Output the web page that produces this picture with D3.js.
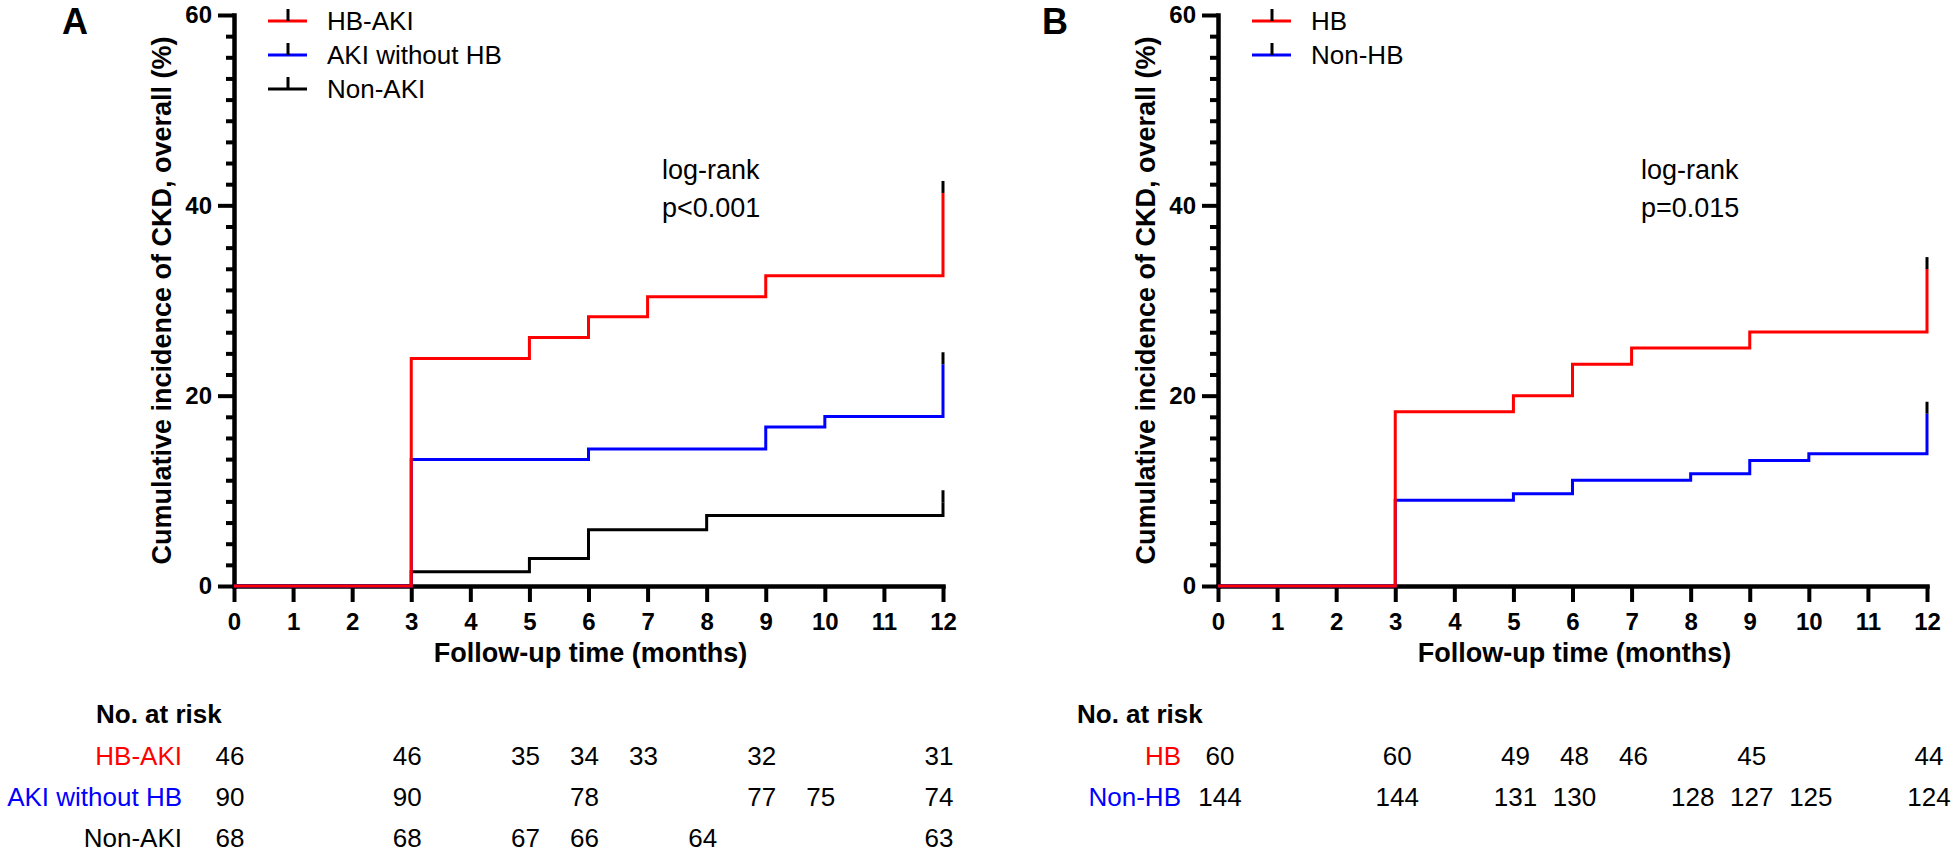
<!DOCTYPE html>
<html>
<head>
<meta charset="utf-8">
<script src="https://cdn.jsdelivr.net/npm/d3@7"></script>
<style>
  html, body { margin: 0; padding: 0; background: #fff; }
  svg { display: block; }
  text { font-family: Arial, "Liberation Sans", sans-serif; }
</style>
</head>
<body>
<svg id="chart" width="1960" height="854"></svg>
<script>
// ---------- DATA ----------
const months = [0,1,2,3,4,5,6,7,8,9,10,11,12];
const yTicks = [0, 20, 40, 60];

// Panel A
const aSeriesNames = ["HB-AKI", "AKI without HB", "Non-AKI"];
const aColors = ["#ff0000", "#0000ff", "#000000"];
const aHbAkiTimes = [0, 3, 5, 6, 7, 9, 12];
const aHbAkiValues = [0, 23.9, 26.1, 28.3, 30.4, 32.6, 41.3];
const aAkiNoHbTimes = [0, 3, 6, 9, 10, 12];
const aAkiNoHbValues = [0, 13.3, 14.4, 16.7, 17.8, 23.3];
const aNonAkiTimes = [0, 3, 5, 6, 8, 12];
const aNonAkiValues = [0, 1.5, 2.9, 5.9, 7.4, 8.8];
const aPText = ["log-rank", "p<0.001"];

const aRiskHbAkiTimes = [0, 3, 5, 6, 7, 9, 12];
const aRiskHbAki = [46, 46, 35, 34, 33, 32, 31];
const aRiskAkiNoHbTimes = [0, 3, 6, 9, 10, 12];
const aRiskAkiNoHb = [90, 90, 78, 77, 75, 74];
const aRiskNonAkiTimes = [0, 3, 5, 6, 8, 12];
const aRiskNonAki = [68, 68, 67, 66, 64, 63];

// Panel B
const bSeriesNames = ["HB", "Non-HB"];
const bColors = ["#ff0000", "#0000ff"];
const bHbTimes = [0, 3, 5, 6, 7, 9, 12];
const bHbValues = [0, 18.3, 20.0, 23.3, 25.0, 26.7, 33.3];
const bNonHbTimes = [0, 3, 5, 6, 8, 9, 10, 12];
const bNonHbValues = [0, 9.0, 9.7, 11.1, 11.8, 13.2, 13.9, 18.1];
const bPText = ["log-rank", "p=0.015"];

const bRiskHbTimes = [0, 3, 5, 6, 7, 9, 12];
const bRiskHb = [60, 60, 49, 48, 46, 45, 44];
const bRiskNonHbTimes = [0, 3, 5, 6, 8, 9, 10, 12];
const bRiskNonHb = [144, 144, 131, 130, 128, 127, 125, 124];

const yTitle = "Cumulative incidence of CKD, overall (%)";
const xTitle = "Follow-up time (months)";
const riskTitle = "No. at risk";

// ---------- DRAW ----------
const svg = d3.select("#chart");
const FONT = 'Arial, "Liberation Sans", sans-serif';

function panel(opt) {
  const g = svg.append("g");
  const x = d3.scaleLinear().domain([0, 12]).range([opt.x0, opt.x0 + 709]);
  const y = d3.scaleLinear().domain([0, 60]).range([586, 15]);

  // minor ticks on y
  const minor = [];
  for (let k = 0; k < 3; k++) for (let j = 1; j < 9; j++) minor.push(k * 20 + j * 20 / 9);
  g.append("g").attr("transform", `translate(${x(0)},0)`)
    .call(d3.axisLeft(y).tickValues(minor).tickSize(8).tickSizeOuter(0).tickFormat(""))
    .call(s => s.select(".domain").remove())
    .call(s => s.selectAll("line").attr("stroke", "#000").attr("stroke-width", 4));

  // y axis
  g.append("g").attr("transform", `translate(${x(0)},0)`)
    .call(d3.axisLeft(y).tickValues(yTicks).tickSize(16).tickSizeOuter(0).tickPadding(6))
    .call(s => s.select(".domain").attr("stroke", "#000").attr("stroke-width", 4.5).attr("stroke-linecap", "square"))
    .call(s => s.selectAll("line").attr("stroke", "#000").attr("stroke-width", 4))
    .call(s => s.selectAll("text").attr("font-family", FONT).attr("font-size", 24).attr("font-weight", "bold").attr("fill", "#000"));

  // x axis
  g.append("g").attr("transform", `translate(0,${y(0)})`)
    .call(d3.axisBottom(x).tickValues(months).tickSize(16).tickSizeOuter(0).tickPadding(11).tickFormat(d3.format("d")))
    .call(s => s.select(".domain").attr("stroke", "#000").attr("stroke-width", 4.5).attr("stroke-linecap", "square"))
    .call(s => s.selectAll("line").attr("stroke", "#000").attr("stroke-width", 4))
    .call(s => s.selectAll("text").attr("font-family", FONT).attr("font-size", 24).attr("font-weight", "bold").attr("fill", "#000"));

  // titles
  g.append("text").attr("transform", `translate(${x(0) - 72},${(y(0) + y(60)) / 2}) rotate(-90)`)
    .attr("text-anchor", "middle").attr("dy", "0.35em")
    .attr("font-size", 27).attr("font-weight", "bold").text(yTitle);
  g.append("text").attr("x", (x(0) + x(12)) / 2 + 2).attr("y", 653).attr("dy", "0.35em")
    .attr("text-anchor", "middle").attr("font-size", 27).attr("font-weight", "bold").text(xTitle);
  g.append("text").attr("x", opt.letterX).attr("y", 34)
    .attr("font-size", 36).attr("font-weight", "bold").text(opt.letter);

  // curves (draw last series first so first series is on top)
  const line = d3.line().x(d => x(d[0])).y(d => y(d[1])).curve(d3.curveStepAfter);
  for (let i = opt.series.length - 1; i >= 0; i--) {
    const s = opt.series[i];
    const pts = s.times.map((t, k) => [t, s.values[k]]);
    g.append("path").attr("d", line(pts)).attr("fill", "none")
      .attr("stroke", opt.colors[i]).attr("stroke-width", 3).attr("stroke-linejoin", "miter");
    const last = pts[pts.length - 1];
    g.append("line").attr("x1", x(last[0])).attr("x2", x(last[0]))
      .attr("y1", y(last[1])).attr("y2", y(last[1]) - 12)
      .attr("stroke", "#000").attr("stroke-width", 3);
  }

  // legend
  opt.names.forEach((n, i) => {
    const ly = 21 + i * 34;
    const lx = x(0) + 34;
    g.append("line").attr("x1", lx).attr("x2", lx + 39).attr("y1", ly).attr("y2", ly)
      .attr("stroke", opt.colors[i]).attr("stroke-width", 3);
    g.append("line").attr("x1", lx + 20).attr("x2", lx + 20).attr("y1", ly).attr("y2", ly - 12)
      .attr("stroke", "#000").attr("stroke-width", 3);
    g.append("text").attr("x", lx + 59).attr("y", ly).attr("dy", "0.35em")
      .attr("font-size", 26).text(n);
  });

  // log-rank
  opt.pText.forEach((t, i) => {
    g.append("text").attr("x", opt.pX).attr("y", 170 + i * 38).attr("dy", "0.35em")
      .attr("font-size", 27).text(t);
  });

  // risk table
  g.append("text").attr("x", opt.riskTitleX).attr("y", 714).attr("dy", "0.35em")
    .attr("font-size", 26).attr("font-weight", "bold").text(riskTitle);
  opt.risk.forEach((r, i) => {
    const ry = 756 + i * 41;
    g.append("text").attr("x", opt.riskLabelX).attr("y", ry).attr("dy", "0.35em")
      .attr("text-anchor", "end").attr("font-size", 26).attr("fill", opt.colors[i]).text(opt.names[i]);
    r.times.forEach((t, k) => {
      g.append("text").attr("x", x(t) + opt.riskShift).attr("y", ry).attr("dy", "0.35em")
        .attr("text-anchor", "middle").attr("font-size", 26).attr("fill", "#000").text(r.values[k]);
    });
  });
}

panel({
  x0: 234, letter: "A", letterX: 62,
  names: aSeriesNames, colors: aColors,
  series: [
    { times: aHbAkiTimes, values: aHbAkiValues },
    { times: aAkiNoHbTimes, values: aAkiNoHbValues },
    { times: aNonAkiTimes, values: aNonAkiValues }
  ],
  pText: aPText, pX: 662,
  riskTitleX: 96, riskLabelX: 182, riskShift: -4,
  risk: [
    { times: aRiskHbAkiTimes, values: aRiskHbAki },
    { times: aRiskAkiNoHbTimes, values: aRiskAkiNoHb },
    { times: aRiskNonAkiTimes, values: aRiskNonAki }
  ]
});

panel({
  x0: 1218, letter: "B", letterX: 1042,
  names: bSeriesNames, colors: bColors,
  series: [
    { times: bHbTimes, values: bHbValues },
    { times: bNonHbTimes, values: bNonHbValues }
  ],
  pText: bPText, pX: 1641,
  riskTitleX: 1077, riskLabelX: 1181, riskShift: 2,
  risk: [
    { times: bRiskHbTimes, values: bRiskHb },
    { times: bRiskNonHbTimes, values: bRiskNonHb }
  ]
});
</script>
</body>
</html>
